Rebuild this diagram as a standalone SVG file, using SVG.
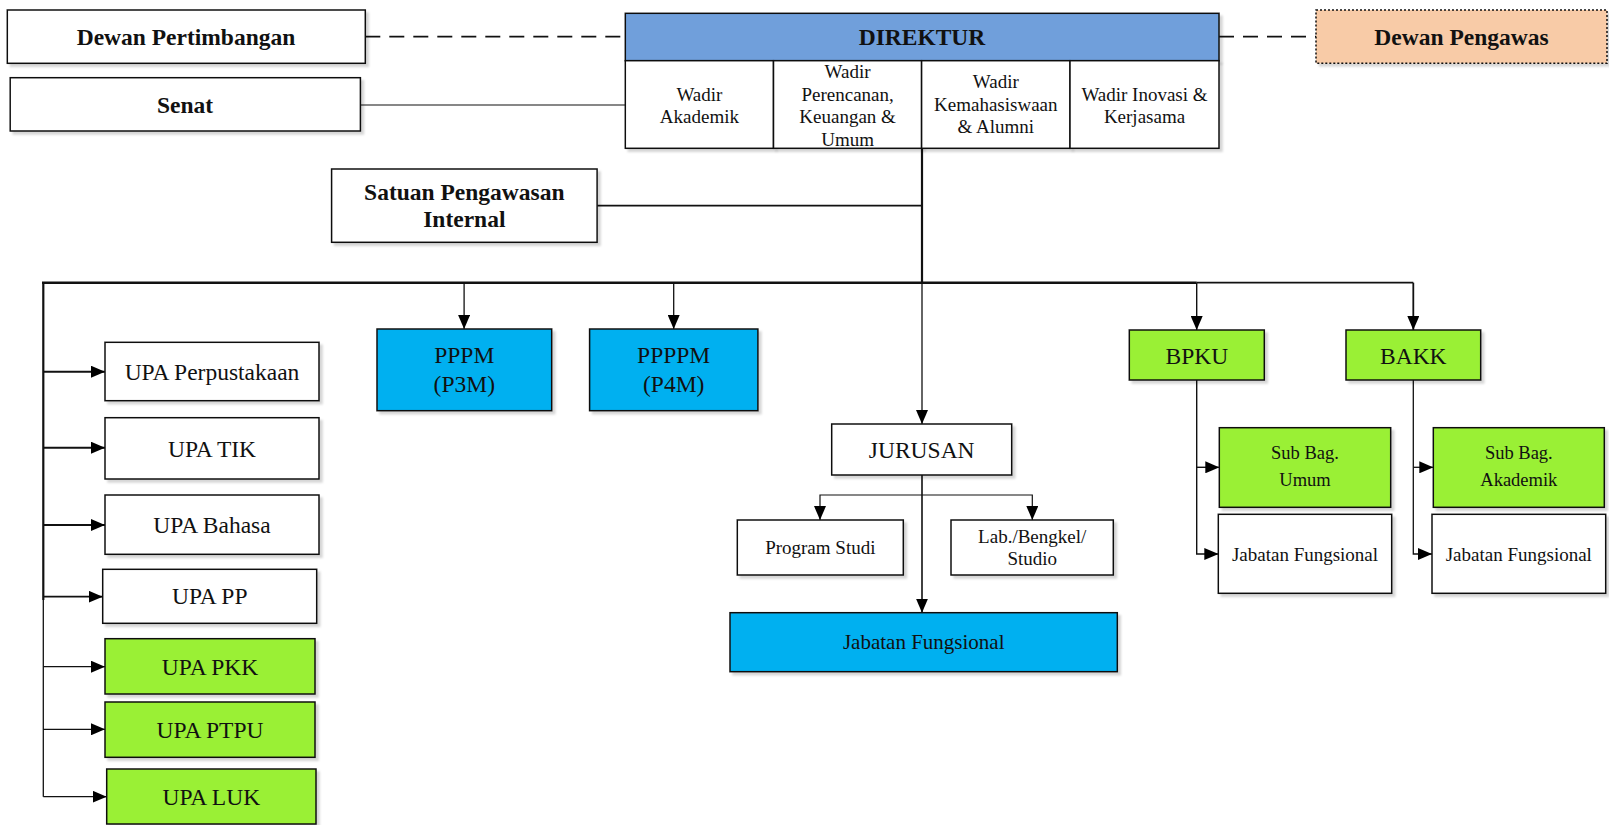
<svg xmlns="http://www.w3.org/2000/svg" width="1609" height="825" viewBox="0 0 1609 825">
  <defs>
    <marker id="arr" markerUnits="userSpaceOnUse" markerWidth="14" markerHeight="12" refX="14" refY="6" orient="auto">
      <path d="M0,0 L14,6 L0,12 z" fill="#000"/>
    </marker>
    <filter id="ds" x="-5%" y="-5%" width="115%" height="125%">
      <feDropShadow dx="3" dy="3" stdDeviation="0.8" flood-color="#000" flood-opacity="0.16"/>
    </filter>
    <style>
      .box { stroke: #111; stroke-width: 1.5; filter: url(#ds); }
      .w { fill: #fff; }
      .blue { fill: #00B0F0; }
      .green { fill: #9AF035; }
      .dir { fill: #6F9FDB; }
      .peach { fill: #F8CBA7; stroke-dasharray: 2 2; }
      text { font-family: "Liberation Serif", "Times New Roman", serif; fill: #111; text-anchor: middle; }
      .b { font-weight: bold; font-size: 23.5px; }
      .m { font-size: 23.5px; }
      .s { font-size: 19px; }
      .ln { fill: none; stroke: #111; }
    </style>
  </defs>

  <!-- connectors -->
  <g id="connectors">
    <path class="ln" d="M365.3,36.7 H625.3 M1219,36.7 H1316" stroke-width="1.8" stroke-dasharray="15 9"/>
    <path class="ln" d="M360.4,105 H625.3" stroke="#444" stroke-width="1.2"/>
    <path class="ln" d="M922,148.3 V282.7" stroke-width="2.2"/>
    <path class="ln" d="M597.1,205.7 H922" stroke-width="1.8"/>
    <path class="ln" d="M42,282.7 H1196.7" stroke-width="2.6"/>
    <path class="ln" d="M1196.7,282.7 H1413.3" stroke-width="1.8"/>
    <path class="ln" d="M1413.3,282.7 V330" stroke-width="1.8" marker-end="url(#arr)"/>
    <path class="ln" d="M1196.7,282.7 V330" stroke="#444" stroke-width="1.4" marker-end="url(#arr)"/>
    <path class="ln" d="M464.1,282.7 V329" stroke-width="1.3" marker-end="url(#arr)"/>
    <path class="ln" d="M673.7,282.7 V329" stroke="#444" stroke-width="1.3" marker-end="url(#arr)"/>
    <path class="ln" d="M922,282.7 V424" stroke="#555" stroke-width="1.3" marker-end="url(#arr)"/>
    <path class="ln" d="M43.3,282.7 V600" stroke-width="2.2"/>
    <path class="ln" d="M43.3,600 V796.7" stroke-width="1.3"/>
    <path class="ln" d="M43.3,371.7 H105" stroke-width="2" marker-end="url(#arr)"/>
    <path class="ln" d="M43.3,447.7 H105" stroke-width="2" marker-end="url(#arr)"/>
    <path class="ln" d="M43.3,525 H105" stroke-width="2" marker-end="url(#arr)"/>
    <path class="ln" d="M43.3,596.7 H102.7" stroke-width="1.8" marker-end="url(#arr)"/>
    <path class="ln" d="M43.3,666.7 H105" stroke-width="1.2" marker-end="url(#arr)"/>
    <path class="ln" d="M43.3,729.3 H105" stroke-width="1.2" marker-end="url(#arr)"/>
    <path class="ln" d="M43.3,796.7 H106.7" stroke-width="1.2" marker-end="url(#arr)"/>
    <path class="ln" d="M922,475 V612.7" stroke-width="1.6" marker-end="url(#arr)"/>
    <path class="ln" d="M922,495 H820 V520" stroke="#444" stroke-width="1.2" marker-end="url(#arr)"/>
    <path class="ln" d="M922,495 H1032.3 V520" stroke="#444" stroke-width="1.2" marker-end="url(#arr)"/>
    <path class="ln" d="M1196.7,380 V554 H1218.3" stroke="#333" stroke-width="1.4" marker-end="url(#arr)"/>
    <path class="ln" d="M1196.7,467.3 H1219.3" stroke-width="1.4" marker-end="url(#arr)"/>
    <path class="ln" d="M1413.3,380 V554 H1432" stroke="#333" stroke-width="1.3" marker-end="url(#arr)"/>
    <path class="ln" d="M1413.3,467.3 H1433.3" stroke-width="1.3" marker-end="url(#arr)"/>
  </g>

  <g id="dewan-pertimbangan">
    <rect class="box w" x="7.3" y="10" width="358" height="53.3"/>
    <text class="b" x="186" y="44.5">Dewan Pertimbangan</text>
  </g>
  <g id="senat">
    <rect class="box w" x="10.2" y="77.7" width="350.2" height="53.3"/>
    <text class="b" x="185" y="112.5">Senat</text>
  </g>

  <g id="direktur">
    <rect class="box dir" x="625.3" y="13.3" width="593.7" height="47.4"/>
    <text class="b" x="922" y="45.3">DIREKTUR</text>
  </g>
  <g id="wadir-akademik">
    <rect class="box w" x="625.3" y="60.7" width="148.2" height="87.6"/>
    <text class="s"><tspan x="699.4" y="100.5">Wadir</tspan><tspan x="699.4" y="123">Akademik</tspan></text>
  </g>
  <g id="wadir-perencanaan">
    <rect class="box w" x="773.5" y="60.7" width="148.1" height="87.6"/>
    <text class="s"><tspan x="847.6" y="78">Wadir</tspan><tspan x="847.6" y="101">Perencanan,</tspan><tspan x="847.6" y="123">Keuangan &amp;</tspan><tspan x="847.6" y="145.5">Umum</tspan></text>
  </g>
  <g id="wadir-kemahasiswaan">
    <rect class="box w" x="921.6" y="60.7" width="148.4" height="87.6"/>
    <text class="s"><tspan x="995.8" y="88">Wadir</tspan><tspan x="995.8" y="111.3">Kemahasiswaan</tspan><tspan x="995.8" y="133">&amp; Alumni</tspan></text>
  </g>
  <g id="wadir-inovasi">
    <rect class="box w" x="1070" y="60.7" width="149" height="87.6"/>
    <text class="s"><tspan x="1144.5" y="100.5">Wadir Inovasi &amp;</tspan><tspan x="1144.5" y="123">Kerjasama</tspan></text>
  </g>

  <g id="dewan-pengawas">
    <rect class="box peach" x="1316" y="10" width="291" height="53.3"/>
    <text class="b" x="1461.5" y="44.5">Dewan Pengawas</text>
  </g>

  <g id="spi">
    <rect class="box w" x="331.6" y="169" width="265.5" height="73.3"/>
    <text class="b"><tspan x="464.3" y="199.5">Satuan Pengawasan</tspan><tspan x="464.3" y="227.3">Internal</tspan></text>
  </g>

  <g id="pppm">
    <rect class="box blue" x="377" y="329" width="174.7" height="81.7"/>
    <text class="m"><tspan x="464.3" y="363">PPPM</tspan><tspan x="464.3" y="392">(P3M)</tspan></text>
  </g>
  <g id="ppppm">
    <rect class="box blue" x="589.6" y="329" width="168.3" height="81.7"/>
    <text class="m"><tspan x="673.7" y="363">PPPPM</tspan><tspan x="673.7" y="392">(P4M)</tspan></text>
  </g>

  <g id="upa-perpustakaan">
    <rect class="box w" x="105" y="342.3" width="214" height="58.4"/>
    <text class="m" x="212" y="379.5">UPA Perpustakaan</text>
  </g>
  <g id="upa-tik">
    <rect class="box w" x="105" y="417.7" width="214" height="61.3"/>
    <text class="m" x="212" y="456.5">UPA TIK</text>
  </g>
  <g id="upa-bahasa">
    <rect class="box w" x="105" y="495" width="214" height="59.3"/>
    <text class="m" x="212" y="532.5">UPA Bahasa</text>
  </g>
  <g id="upa-pp">
    <rect class="box w" x="102.7" y="569.3" width="214" height="54"/>
    <text class="m" x="209.7" y="604">UPA PP</text>
  </g>
  <g id="upa-pkk">
    <rect class="box green" x="105" y="638.7" width="210" height="55.3"/>
    <text class="m" x="210" y="674.5">UPA PKK</text>
  </g>
  <g id="upa-ptpu">
    <rect class="box green" x="105" y="702" width="210" height="55.3"/>
    <text class="m" x="210" y="737.5">UPA PTPU</text>
  </g>
  <g id="upa-luk">
    <rect class="box green" x="106.7" y="769" width="209.3" height="55"/>
    <text class="m" x="211.3" y="804.5">UPA LUK</text>
  </g>

  <g id="jurusan">
    <rect class="box w" x="831.7" y="424" width="180" height="51"/>
    <text class="m" x="921.7" y="457.5">JURUSAN</text>
  </g>
  <g id="program-studi">
    <rect class="box w" x="737.3" y="520" width="166" height="55"/>
    <text class="s" x="820.3" y="554">Program Studi</text>
  </g>
  <g id="lab">
    <rect class="box w" x="951" y="520" width="162.3" height="55"/>
    <text class="s"><tspan x="1032.2" y="543">Lab./Bengkel/</tspan><tspan x="1032.2" y="565">Studio</tspan></text>
  </g>
  <g id="jabatan-jurusan">
    <rect class="box blue" x="730" y="612.7" width="387.3" height="59"/>
    <text class="s" x="923.7" y="649" style="font-size:21px">Jabatan Fungsional</text>
  </g>

  <g id="bpku">
    <rect class="box green" x="1129.3" y="330" width="135" height="50"/>
    <text class="m" x="1196.8" y="363.5">BPKU</text>
  </g>
  <g id="bakk">
    <rect class="box green" x="1346" y="330" width="134.7" height="50"/>
    <text class="m" x="1413.3" y="363.5">BAKK</text>
  </g>
  <g id="subbag-umum">
    <rect class="box green" x="1219.3" y="427.7" width="171.4" height="79.6"/>
    <text class="s" style="font-size:18.5px"><tspan x="1305" y="459">Sub Bag.</tspan><tspan x="1305" y="486">Umum</tspan></text>
  </g>
  <g id="jabatan-bpku">
    <rect class="box w" x="1218.3" y="514.3" width="173.4" height="79"/>
    <text class="s" x="1305" y="560.5">Jabatan Fungsional</text>
  </g>
  <g id="subbag-akademik">
    <rect class="box green" x="1433.3" y="427.7" width="171" height="79.6"/>
    <text class="s" style="font-size:18.5px"><tspan x="1518.8" y="459">Sub Bag.</tspan><tspan x="1518.8" y="486">Akademik</tspan></text>
  </g>
  <g id="jabatan-bakk">
    <rect class="box w" x="1432" y="514.3" width="173.7" height="79"/>
    <text class="s" x="1518.8" y="560.5">Jabatan Fungsional</text>
  </g>
</svg>
